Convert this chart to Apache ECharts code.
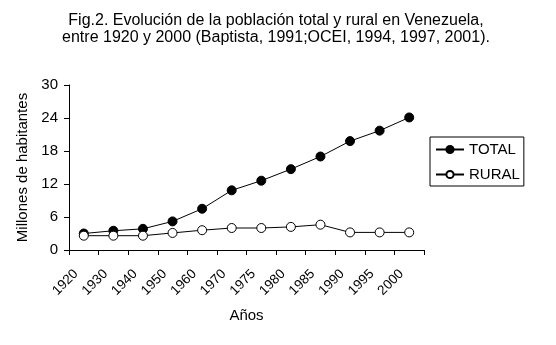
<!DOCTYPE html>
<html>
<head>
<meta charset="utf-8">
<script src="https://cdn.jsdelivr.net/npm/echarts@6/dist/echarts.min.js"></script>
<style>
html,body{margin:0;padding:0;background:#fff;}
#chart{width:556px;height:345px;}
</style>
</head>
<body>
<div id="chart"></div>
<script>
var years = ['1920','1930','1940','1950','1960','1970','1975','1980','1985','1990','1995','2000'];
var totalValues = [3.0, 3.5, 3.85, 5.2, 7.5, 10.85, 12.6, 14.7, 17.0, 19.8, 21.7, 24.1];
var ruralValues = [2.6, 2.6, 2.6, 3.1, 3.6, 4.0, 4.0, 4.2, 4.6, 3.2, 3.2, 3.2];
var yTicks = [0, 6, 12, 18, 24, 30];
var titleText = 'Fig.2. Evolución de la población total y rural en Venezuela,\nentre 1920 y 2000 (Baptista, 1991;OCEI, 1994, 1997, 2001).';

var FONT = '"Liberation Sans", Arial, sans-serif';
var chart = echarts.init(document.getElementById('chart'), null, {renderer: 'canvas'});
chart.setOption({
  animation: false,
  backgroundColor: '#fff',
  textStyle: {fontFamily: FONT},
  title: {
    text: titleText,
    left: 276,
    textAlign: 'center',
    top: 12,
    padding: 0,
    textStyle: {fontSize: 16, fontWeight: 'normal', color: '#000', lineHeight: 17, fontFamily: FONT}
  },
  legend: {
    orient: 'vertical',
    left: 430,
    top: 137,
    width: 92,
    padding: [5, 4, 4, 5],
    itemGap: 10,
    itemWidth: 28,
    itemHeight: 9,
    borderColor: '#000',
    borderWidth: 1,
    textStyle: {fontSize: 15, color: '#000', fontFamily: FONT},
    data: ['TOTAL', 'RURAL']
  },
  grid: {left: 69, right: 132, top: 85, bottom: 95, containLabel: false},
  xAxis: {
    type: 'category',
    data: years,
    boundaryGap: true,
    name: 'Años',
    nameLocation: 'middle',
    nameGap: 58,
    nameTextStyle: {fontSize: 15, color: '#000', fontFamily: FONT},
    axisLine: {show: true, lineStyle: {color: '#000', width: 1}},
    axisTick: {show: true, alignWithLabel: false, length: 5, lineStyle: {color: '#000'}},
    axisLabel: {rotate: 45, margin: 14, padding: [0, 11, 0, 0], fontSize: 13.5, color: '#000', fontFamily: FONT, interval: 0},
    splitLine: {show: false}
  },
  yAxis: {
    type: 'value',
    min: yTicks[0],
    max: yTicks[yTicks.length - 1],
    interval: yTicks[1] - yTicks[0],
    name: 'Millones de habitantes',
    nameLocation: 'middle',
    nameGap: 31,
    nameTextStyle: {fontSize: 15, color: '#000', fontFamily: FONT},
    axisLine: {show: true, lineStyle: {color: '#000', width: 1}},
    axisTick: {show: true, length: 5, lineStyle: {color: '#000'}},
    axisLabel: {margin: 11, fontSize: 15, color: '#000', fontFamily: FONT},
    splitLine: {show: false}
  },
  series: [
    {
      name: 'TOTAL',
      type: 'line',
      data: totalValues,
      symbol: 'circle',
      symbolSize: 9,
      showAllSymbol: true,
      lineStyle: {color: '#000', width: 1},
      itemStyle: {color: '#000', borderColor: '#000', borderWidth: 1}
    },
    {
      name: 'RURAL',
      type: 'line',
      data: ruralValues,
      symbol: 'circle',
      symbolSize: 9,
      showAllSymbol: true,
      lineStyle: {color: '#000', width: 1},
      itemStyle: {color: '#fff', borderColor: '#000', borderWidth: 1}
    }
  ]
});
</script>
</body>
</html>
